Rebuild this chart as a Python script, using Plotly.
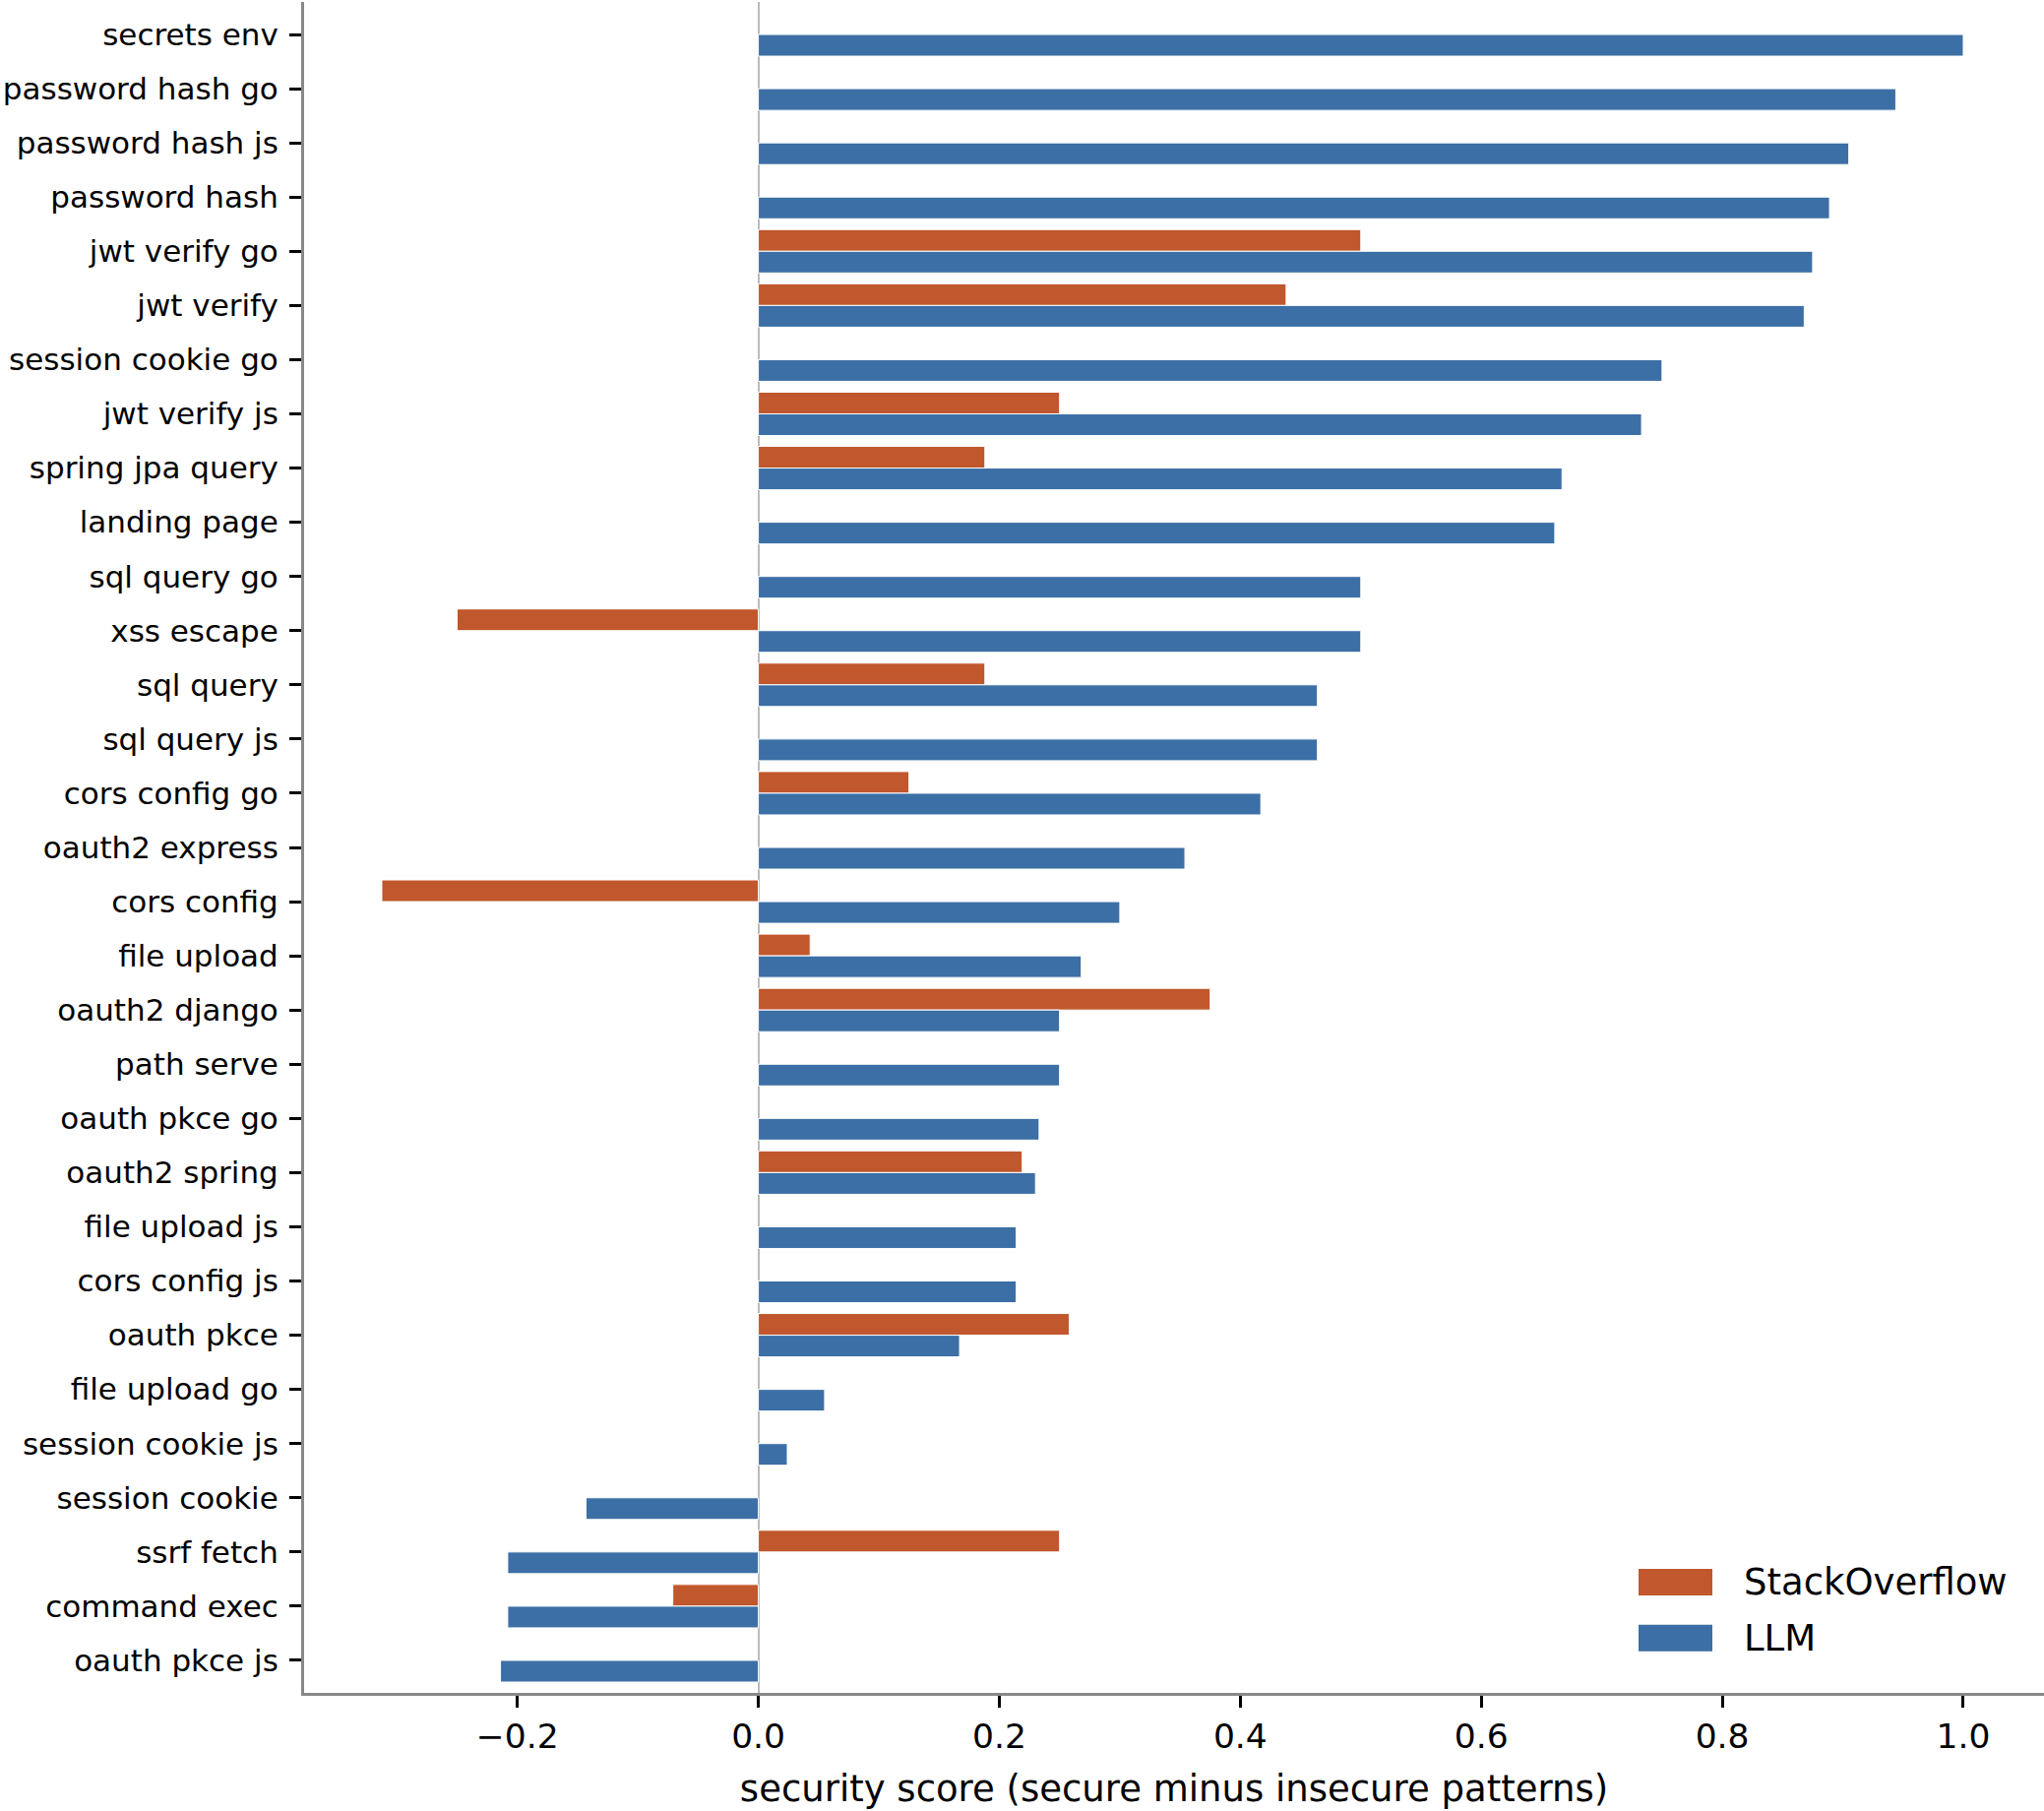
import plotly.graph_objects as go

categories = [
    "secrets env", "password hash go", "password hash js", "password hash",
    "jwt verify go", "jwt verify", "session cookie go", "jwt verify js",
    "spring jpa query", "landing page", "sql query go", "xss escape",
    "sql query", "sql query js", "cors config go", "oauth2 express",
    "cors config", "file upload", "oauth2 django", "path serve",
    "oauth pkce go", "oauth2 spring", "file upload js", "cors config js",
    "oauth pkce", "file upload go", "session cookie js", "session cookie",
    "ssrf fetch", "command exec", "oauth pkce js",
]

llm_scores = [
    1.000, 0.944, 0.905, 0.889,
    0.875, 0.868, 0.750, 0.733,
    0.667, 0.661, 0.500, 0.500,
    0.464, 0.464, 0.417, 0.354,
    0.300, 0.268, 0.250, 0.250,
    0.233, 0.230, 0.214, 0.214,
    0.167, 0.055, 0.024, -0.143,
    -0.208, -0.208, -0.214,
]

stackoverflow_scores = [
    None, None, None, None,
    0.500, 0.438, None, 0.250,
    0.188, None, None, -0.250,
    0.188, None, 0.125, None,
    -0.3125, 0.043, 0.375, None,
    None, 0.219, None, None,
    0.258, None, None, None,
    0.250, -0.071, None,
]

x_ticks = [-0.2, 0.0, 0.2, 0.4, 0.6, 0.8, 1.0]
x_tick_text = ["\u22120.2", "0.0", "0.2", "0.4", "0.6", "0.8", "1.0"]

series_names = ["StackOverflow", "LLM"]
ORANGE = "#C0572D"
BLUE = "#3C6FA5"

W, H = 2077, 1840
ML, MR, MT, MB = 309, 0, 2, 120
PW, PH = W - ML - MR, H - MT - MB

fig = go.Figure()
fig.add_trace(go.Bar(
    y=categories, x=stackoverflow_scores, orientation="h", name=series_names[0],
    marker=dict(color=ORANGE, line=dict(color="white", width=1)),
))
fig.add_trace(go.Bar(
    y=categories, x=llm_scores, orientation="h", name=series_names[1],
    marker=dict(color=BLUE, line=dict(color="white", width=1)),
))

FONT = "DejaVu Sans"

fig.update_layout(
    width=W, height=H,
    margin=dict(l=ML, r=MR, t=MT, b=MB, pad=0),
    plot_bgcolor="white", paper_bgcolor="white",
    barmode="group", bargap=0.2, bargroupgap=0.0,
    showlegend=False,
    font=dict(family=FONT, color="black"),
)

fig.update_xaxes(
    range=[-0.377, 1.067],
    automargin=False,
    tickvals=x_ticks, ticktext=x_tick_text,
    tickfont=dict(size=34.5, family=FONT, color="black"),
    ticks="outside", ticklen=12, tickwidth=2.5, tickcolor="black",
    showline=True, linecolor="#888888", linewidth=3,
    showgrid=False,
    zeroline=True, zerolinecolor="#BBBBBB", zerolinewidth=2,
    title=dict(text="security score (secure minus insecure patterns)",
               font=dict(size=37, family=FONT, color="black"), standoff=21),
)
fig.update_yaxes(
    range=[30.6, -0.6],
    type="category",
    automargin=False,
    tickfont=dict(size=31, family=FONT, color="black"),
    ticks="outside", ticklen=12, tickwidth=2.5, tickcolor="black",
    ticklabelstandoff=5,
    showline=True, linecolor="#888888", linewidth=3,
    showgrid=False, zeroline=False,
)

# legend (drawn manually to match patch size)
def px_to_paper(px, py):
    return (px - ML) / PW, 1 - (py - MT) / PH

legend_rows = [(series_names[0], ORANGE, 1607.5), (series_names[1], BLUE, 1664.3)]
for name, col, cy in legend_rows:
    x0, y0 = px_to_paper(1665, cy - 13.5)
    x1, y1 = px_to_paper(1740, cy + 13.5)
    fig.add_shape(type="rect", xref="paper", yref="paper",
                  x0=x0, x1=x1, y0=y1, y1=y0,
                  fillcolor=col, line=dict(width=0))
    tx, ty = px_to_paper(1770, cy)
    fig.add_annotation(xref="paper", yref="paper", x=tx, y=ty, text=name,
                       showarrow=False, xanchor="left", yanchor="middle",
                       font=dict(size=37, family=FONT, color="black"))

fig.write_html("out.html")
